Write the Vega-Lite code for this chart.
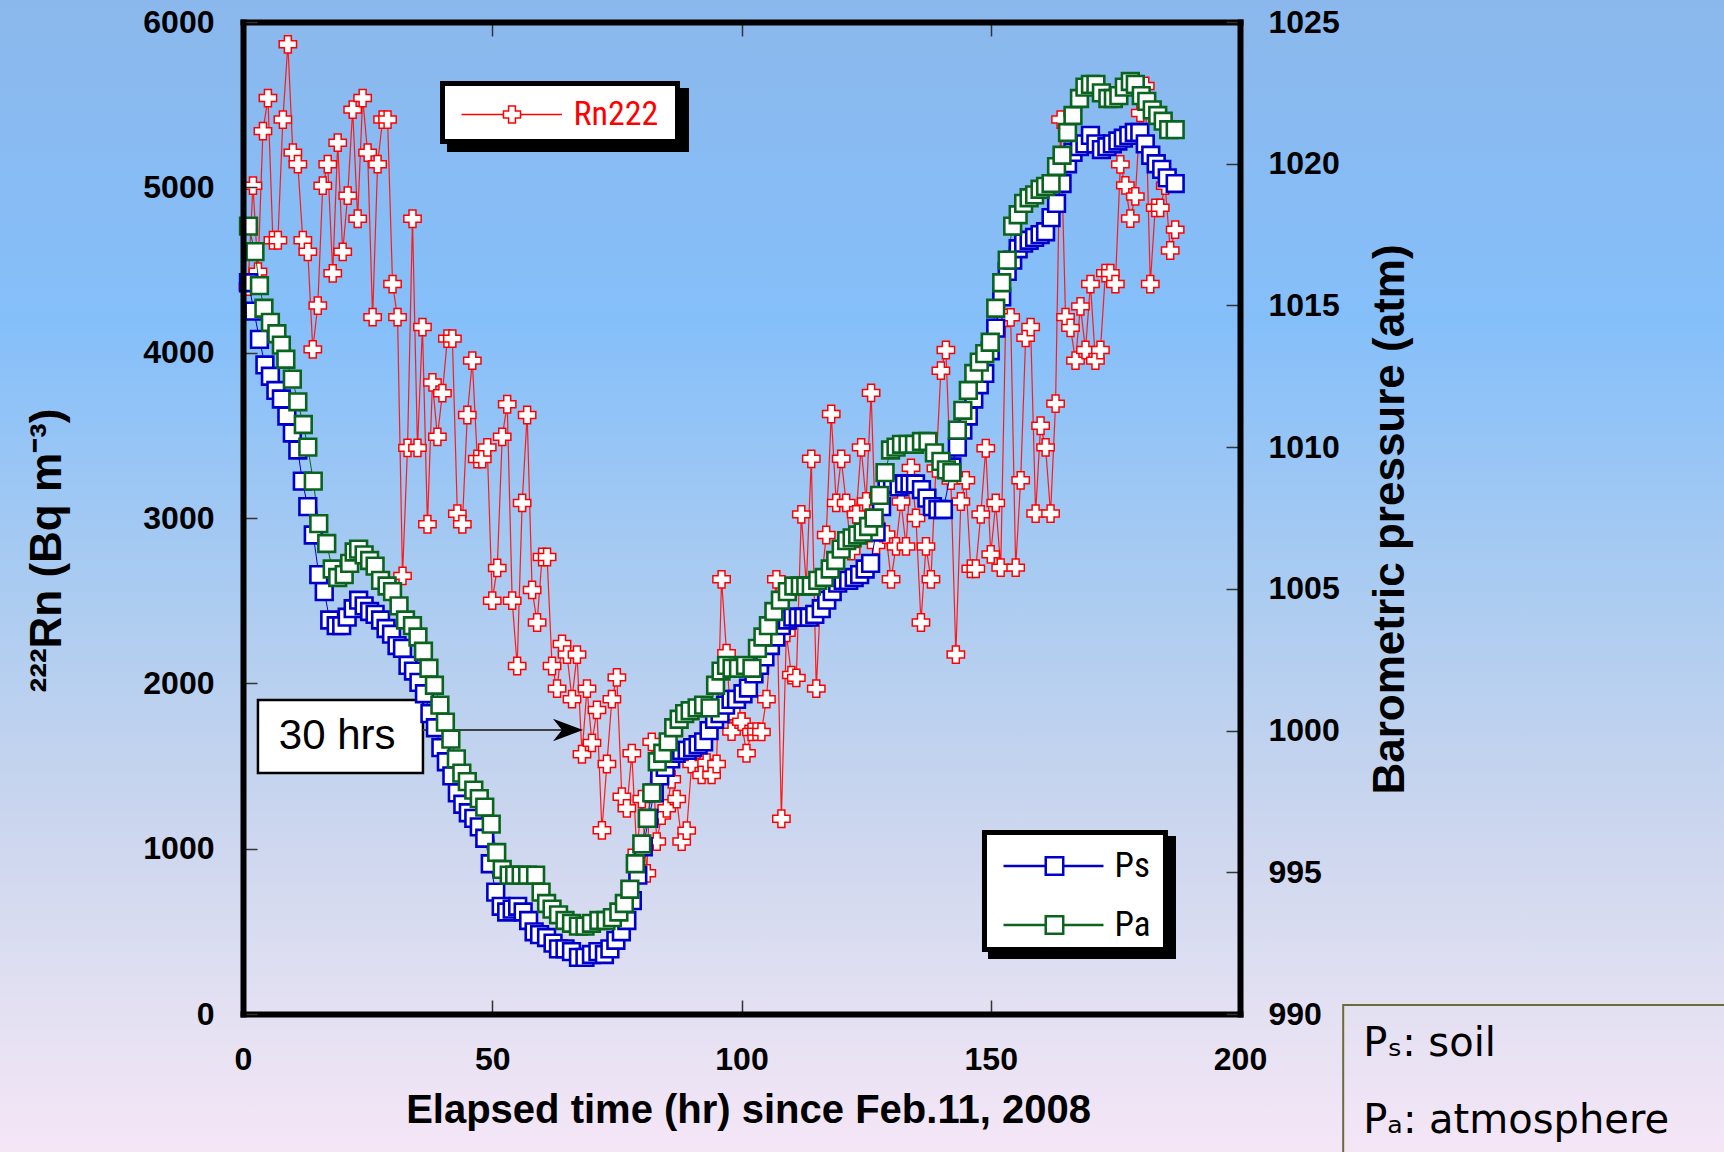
{
"$schema":"https://vega.github.io/schema/vega-lite/v6.json",
"width":997,"height":992,
"autosize":{"type":"none"},
"padding":{"left":243,"top":22,"right":484,"bottom":138},
"background":"#b4ccf0",
"config":{"view":{"stroke":null},"font":"Liberation Sans"},
"datasets":{
"one":[{}],
"rn":[{"t":1,"rn":4400},{"t":2,"rn":5010},{"t":3,"rn":4490},{"t":4,"rn":5340},{"t":5,"rn":5540},{"t":6,"rn":4680},{"t":7,"rn":4680},{"t":8,"rn":5410},{"t":9,"rn":5865},{"t":10,"rn":5210},{"t":11,"rn":5140},{"t":12,"rn":4680},{"t":13,"rn":4610},{"t":14,"rn":4020},{"t":15,"rn":4285},{"t":16,"rn":5010},{"t":17,"rn":5140},{"t":18,"rn":4480},{"t":19,"rn":5270},{"t":20,"rn":4610},{"t":21,"rn":4950},{"t":22,"rn":5470},{"t":23,"rn":4810},{"t":24,"rn":5540},{"t":25,"rn":5210},{"t":26,"rn":4215},{"t":27,"rn":5140},{"t":28,"rn":5410},{"t":29,"rn":5410},{"t":30,"rn":4415},{"t":31,"rn":4215},{"t":32,"rn":2650},{"t":33,"rn":3424},{"t":34,"rn":4810},{"t":35,"rn":3424},{"t":36,"rn":4155},{"t":37,"rn":2962},{"t":38,"rn":3820},{"t":39,"rn":3491},{"t":40,"rn":3755},{"t":41,"rn":4085},{"t":42,"rn":4085},{"t":43,"rn":3026},{"t":44,"rn":2962},{"t":45,"rn":3623},{"t":46,"rn":3952},{"t":47,"rn":3357},{"t":48,"rn":3357},{"t":49,"rn":3427},{"t":50,"rn":2500},{"t":51,"rn":2698},{"t":52,"rn":3491},{"t":53,"rn":3688},{"t":54,"rn":2500},{"t":55,"rn":2105},{"t":56,"rn":3091},{"t":57,"rn":3623},{"t":58,"rn":2565},{"t":59,"rn":2368},{"t":60,"rn":2764},{"t":61,"rn":2764},{"t":62,"rn":2105},{"t":63,"rn":1968},{"t":64,"rn":2238},{"t":65,"rn":2174},{"t":66,"rn":1904},{"t":67,"rn":2174},{"t":68,"rn":1571},{"t":69,"rn":1968},{"t":70,"rn":1640},{"t":71,"rn":1839},{"t":72,"rn":1111},{"t":73,"rn":1512},{"t":74,"rn":1904},{"t":75,"rn":2036},{"t":76,"rn":1314},{"t":77,"rn":1244},{"t":78,"rn":1577},{"t":79,"rn":975},{"t":80,"rn":1300},{"t":81,"rn":851},{"t":82,"rn":1646},{"t":83,"rn":1043},{"t":84,"rn":1200},{"t":85,"rn":1244},{"t":86,"rn":1420},{"t":87,"rn":1300},{"t":88,"rn":1043},{"t":89,"rn":1109},{"t":90,"rn":1512},{"t":91,"rn":1600},{"t":92,"rn":1446},{"t":93,"rn":1520},{"t":94,"rn":1446},{"t":95,"rn":1512},{"t":96,"rn":2629},{"t":97,"rn":2182},{"t":98,"rn":1708},{"t":99,"rn":1800},{"t":100,"rn":1768},{"t":101,"rn":1577},{"t":102,"rn":1706},{"t":103,"rn":1708},{"t":104,"rn":1706},{"t":105,"rn":1904},{"t":106,"rn":2300},{"t":107,"rn":2629},{"t":108,"rn":1181},{"t":109,"rn":2305},{"t":110,"rn":2050},{"t":111,"rn":2033},{"t":112,"rn":3022},{"t":113,"rn":2591},{"t":114,"rn":3358},{"t":115,"rn":1968},{"t":116,"rn":2600},{"t":117,"rn":2897},{"t":118,"rn":3629},{"t":119,"rn":3091},{"t":120,"rn":3358},{"t":121,"rn":3091},{"t":122,"rn":2800},{"t":123,"rn":3022},{"t":124,"rn":3427},{"t":125,"rn":3100},{"t":126,"rn":3757},{"t":127,"rn":2836},{"t":128,"rn":3100},{"t":129,"rn":2900},{"t":130,"rn":2629},{"t":131,"rn":2828},{"t":132,"rn":3100},{"t":133,"rn":2828},{"t":134,"rn":3303},{"t":135,"rn":3000},{"t":136,"rn":2368},{"t":137,"rn":2828},{"t":138,"rn":2629},{"t":139,"rn":3300},{"t":140,"rn":3891},{"t":141,"rn":4016},{"t":142,"rn":3226},{"t":143,"rn":2174},{"t":144,"rn":3100},{"t":145,"rn":3228},{"t":146,"rn":2693},{"t":147,"rn":2693},{"t":148,"rn":3022},{"t":149,"rn":3422},{"t":150,"rn":2780},{"t":151,"rn":3091},{"t":152,"rn":2700},{"t":153,"rn":4210},{"t":154,"rn":4214},{"t":155,"rn":2700},{"t":156,"rn":3228},{"t":157,"rn":4090},{"t":158,"rn":4155},{"t":159,"rn":3027},{"t":160,"rn":3558},{"t":161,"rn":3427},{"t":162,"rn":3027},{"t":163,"rn":3692},{"t":164,"rn":5410},{"t":165,"rn":4215},{"t":166,"rn":4150},{"t":167,"rn":3952},{"t":168,"rn":4280},{"t":169,"rn":4016},{"t":170,"rn":4415},{"t":171,"rn":3952},{"t":172,"rn":4016},{"t":173,"rn":4481},{"t":174,"rn":4481},{"t":175,"rn":4415},{"t":176,"rn":5139},{"t":177,"rn":5012},{"t":178,"rn":4811},{"t":179,"rn":4945},{"t":180,"rn":5450},{"t":181,"rn":5613},{"t":182,"rn":4415},{"t":183,"rn":4876},{"t":184,"rn":4876},{"t":185,"rn":5010},{"t":186,"rn":4618},{"t":187,"rn":4744}],
"pres":[
{"t":1.1,"s":"Ps","p":1015.8},{"t":2.2,"s":"Ps","p":1014.8},{"t":3.3,"s":"Ps","p":1013.8},{"t":4.4,"s":"Ps","p":1012.9},{"t":5.5,"s":"Ps","p":1012.5},{"t":6.6,"s":"Ps","p":1012.0},{"t":7.7,"s":"Ps","p":1011.7},{"t":8.8,"s":"Ps","p":1011.1},{"t":9.9,"s":"Ps","p":1010.5},{"t":11.0,"s":"Ps","p":1009.9},{"t":11.9,"s":"Ps","p":1008.8},{"t":13.0,"s":"Ps","p":1007.9},{"t":14.1,"s":"Ps","p":1006.9},{"t":15.2,"s":"Ps","p":1005.5},{"t":16.3,"s":"Ps","p":1004.9},{"t":17.4,"s":"Ps","p":1003.9},{"t":18.7,"s":"Ps","p":1003.7},{"t":19.8,"s":"Ps","p":1003.7},{"t":20.9,"s":"Ps","p":1004.0},{"t":22.1,"s":"Ps","p":1004.3},{"t":23.2,"s":"Ps","p":1004.6},{"t":24.3,"s":"Ps","p":1004.4},{"t":25.4,"s":"Ps","p":1004.2},{"t":26.5,"s":"Ps","p":1004.1},{"t":27.6,"s":"Ps","p":1003.9},{"t":28.7,"s":"Ps","p":1003.6},{"t":29.8,"s":"Ps","p":1003.4},{"t":30.9,"s":"Ps","p":1003.0},{"t":32.0,"s":"Ps","p":1002.9},{"t":33.1,"s":"Ps","p":1002.3},{"t":34.2,"s":"Ps","p":1002.1},{"t":35.3,"s":"Ps","p":1001.7},{"t":36.4,"s":"Ps","p":1001.3},{"t":37.5,"s":"Ps","p":1000.6},{"t":38.6,"s":"Ps","p":1000.1},{"t":39.7,"s":"Ps","p":999.4},{"t":40.8,"s":"Ps","p":998.9},{"t":41.9,"s":"Ps","p":998.4},{"t":43.0,"s":"Ps","p":997.8},{"t":44.1,"s":"Ps","p":997.4},{"t":45.2,"s":"Ps","p":997.1},{"t":46.3,"s":"Ps","p":996.9},{"t":47.4,"s":"Ps","p":996.6},{"t":48.5,"s":"Ps","p":996.2},{"t":49.6,"s":"Ps","p":995.3},{"t":50.7,"s":"Ps","p":994.3},{"t":51.8,"s":"Ps","p":993.8},{"t":52.9,"s":"Ps","p":993.6},{"t":54.0,"s":"Ps","p":993.7},{"t":55.1,"s":"Ps","p":993.8},{"t":56.2,"s":"Ps","p":993.6},{"t":57.3,"s":"Ps","p":993.3},{"t":58.4,"s":"Ps","p":992.9},{"t":59.5,"s":"Ps","p":992.8},{"t":60.9,"s":"Ps","p":992.7},{"t":62.2,"s":"Ps","p":992.5},{"t":63.3,"s":"Ps","p":992.3},{"t":64.6,"s":"Ps","p":992.3},{"t":65.9,"s":"Ps","p":992.2},{"t":67.3,"s":"Ps","p":992.0},{"t":68.6,"s":"Ps","p":992.0},{"t":69.9,"s":"Ps","p":992.1},{"t":71.2,"s":"Ps","p":992.2},{"t":72.5,"s":"Ps","p":992.1},{"t":73.6,"s":"Ps","p":992.3},{"t":74.8,"s":"Ps","p":992.6},{"t":75.9,"s":"Ps","p":992.9},{"t":77.0,"s":"Ps","p":993.3},{"t":78.1,"s":"Ps","p":994.0},{"t":79.2,"s":"Ps","p":994.9},{"t":80.3,"s":"Ps","p":995.9},{"t":81.4,"s":"Ps","p":996.9},{"t":82.5,"s":"Ps","p":997.8},{"t":83.6,"s":"Ps","p":998.4},{"t":84.7,"s":"Ps","p":998.7},{"t":85.8,"s":"Ps","p":999.0},{"t":86.9,"s":"Ps","p":999.2},{"t":88.0,"s":"Ps","p":999.3},{"t":89.1,"s":"Ps","p":999.3},{"t":90.2,"s":"Ps","p":999.4},{"t":91.3,"s":"Ps","p":999.5},{"t":92.4,"s":"Ps","p":999.6},{"t":93.5,"s":"Ps","p":1000.0},{"t":94.6,"s":"Ps","p":1000.4},{"t":95.7,"s":"Ps","p":1000.6},{"t":96.8,"s":"Ps","p":1000.9},{"t":97.9,"s":"Ps","p":1001.1},{"t":99.0,"s":"Ps","p":1001.1},{"t":100.3,"s":"Ps","p":1001.3},{"t":101.4,"s":"Ps","p":1001.5},{"t":102.5,"s":"Ps","p":1002.0},{"t":103.6,"s":"Ps","p":1002.3},{"t":104.7,"s":"Ps","p":1002.6},{"t":105.8,"s":"Ps","p":1003.0},{"t":106.9,"s":"Ps","p":1003.3},{"t":108.0,"s":"Ps","p":1003.7},{"t":109.2,"s":"Ps","p":1003.9},{"t":110.3,"s":"Ps","p":1004.0},{"t":111.4,"s":"Ps","p":1004.0},{"t":112.5,"s":"Ps","p":1004.0},{"t":113.6,"s":"Ps","p":1004.0},{"t":114.7,"s":"Ps","p":1004.1},{"t":116.0,"s":"Ps","p":1004.3},{"t":117.1,"s":"Ps","p":1004.6},{"t":118.2,"s":"Ps","p":1004.9},{"t":119.3,"s":"Ps","p":1005.2},{"t":120.4,"s":"Ps","p":1005.3},{"t":121.5,"s":"Ps","p":1005.3},{"t":122.6,"s":"Ps","p":1005.4},{"t":123.7,"s":"Ps","p":1005.5},{"t":124.8,"s":"Ps","p":1005.7},{"t":125.9,"s":"Ps","p":1005.9},{"t":127.0,"s":"Ps","p":1007.0},{"t":128.1,"s":"Ps","p":1007.9},{"t":129.2,"s":"Ps","p":1008.7},{"t":130.3,"s":"Ps","p":1008.7},{"t":131.6,"s":"Ps","p":1008.6},{"t":132.7,"s":"Ps","p":1008.7},{"t":133.8,"s":"Ps","p":1008.7},{"t":134.9,"s":"Ps","p":1008.7},{"t":136.1,"s":"Ps","p":1008.5},{"t":137.2,"s":"Ps","p":1008.2},{"t":138.3,"s":"Ps","p":1007.9},{"t":139.4,"s":"Ps","p":1007.8},{"t":140.5,"s":"Ps","p":1007.8},{"t":142.2,"s":"Ps","p":1009.3},{"t":143.3,"s":"Ps","p":1010.0},{"t":144.4,"s":"Ps","p":1010.6},{"t":145.5,"s":"Ps","p":1011.1},{"t":146.6,"s":"Ps","p":1011.7},{"t":147.7,"s":"Ps","p":1012.2},{"t":148.8,"s":"Ps","p":1012.6},{"t":149.9,"s":"Ps","p":1013.4},{"t":151.0,"s":"Ps","p":1014.2},{"t":152.2,"s":"Ps","p":1015.3},{"t":153.3,"s":"Ps","p":1016.2},{"t":154.4,"s":"Ps","p":1016.6},{"t":155.5,"s":"Ps","p":1017.0},{"t":156.6,"s":"Ps","p":1017.2},{"t":157.7,"s":"Ps","p":1017.3},{"t":158.8,"s":"Ps","p":1017.4},{"t":159.9,"s":"Ps","p":1017.5},{"t":161.0,"s":"Ps","p":1017.6},{"t":162.1,"s":"Ps","p":1018.1},{"t":163.2,"s":"Ps","p":1018.6},{"t":164.3,"s":"Ps","p":1019.3},{"t":165.4,"s":"Ps","p":1020.0},{"t":166.5,"s":"Ps","p":1020.4},{"t":167.8,"s":"Ps","p":1020.6},{"t":168.9,"s":"Ps","p":1020.7},{"t":170.0,"s":"Ps","p":1021.0},{"t":171.1,"s":"Ps","p":1020.7},{"t":172.2,"s":"Ps","p":1020.5},{"t":173.3,"s":"Ps","p":1020.6},{"t":174.4,"s":"Ps","p":1020.7},{"t":175.5,"s":"Ps","p":1020.8},{"t":176.6,"s":"Ps","p":1020.9},{"t":177.7,"s":"Ps","p":1021.0},{"t":178.8,"s":"Ps","p":1021.1},{"t":179.9,"s":"Ps","p":1021.1},{"t":181.0,"s":"Ps","p":1020.7},{"t":182.1,"s":"Ps","p":1020.3},{"t":183.2,"s":"Ps","p":1020.0},{"t":184.3,"s":"Ps","p":1019.8},{"t":185.4,"s":"Ps","p":1019.5},{"t":187.0,"s":"Ps","p":1019.3},
{"t":1.1,"s":"Pa","p":1017.8},{"t":2.4,"s":"Pa","p":1016.9},{"t":3.3,"s":"Pa","p":1015.7},{"t":4.2,"s":"Pa","p":1014.9},{"t":5.5,"s":"Pa","p":1014.4},{"t":6.8,"s":"Pa","p":1014.0},{"t":7.7,"s":"Pa","p":1013.6},{"t":8.6,"s":"Pa","p":1013.1},{"t":9.9,"s":"Pa","p":1012.4},{"t":11.0,"s":"Pa","p":1011.6},{"t":12.1,"s":"Pa","p":1010.8},{"t":13.0,"s":"Pa","p":1010.0},{"t":14.1,"s":"Pa","p":1008.8},{"t":15.2,"s":"Pa","p":1007.3},{"t":16.8,"s":"Pa","p":1006.6},{"t":17.9,"s":"Pa","p":1005.7},{"t":19.0,"s":"Pa","p":1005.4},{"t":20.3,"s":"Pa","p":1005.5},{"t":21.4,"s":"Pa","p":1005.9},{"t":22.3,"s":"Pa","p":1006.3},{"t":23.2,"s":"Pa","p":1006.4},{"t":24.3,"s":"Pa","p":1006.2},{"t":25.4,"s":"Pa","p":1006.0},{"t":26.5,"s":"Pa","p":1005.8},{"t":27.6,"s":"Pa","p":1005.3},{"t":28.9,"s":"Pa","p":1005.1},{"t":30.0,"s":"Pa","p":1004.9},{"t":31.3,"s":"Pa","p":1004.4},{"t":32.6,"s":"Pa","p":1003.9},{"t":34.0,"s":"Pa","p":1003.7},{"t":35.1,"s":"Pa","p":1003.3},{"t":36.2,"s":"Pa","p":1002.8},{"t":37.3,"s":"Pa","p":1002.2},{"t":38.4,"s":"Pa","p":1001.6},{"t":39.5,"s":"Pa","p":1000.9},{"t":40.6,"s":"Pa","p":1000.3},{"t":41.7,"s":"Pa","p":999.7},{"t":42.8,"s":"Pa","p":999.0},{"t":43.9,"s":"Pa","p":998.5},{"t":45.0,"s":"Pa","p":998.2},{"t":46.3,"s":"Pa","p":997.9},{"t":47.4,"s":"Pa","p":997.6},{"t":48.5,"s":"Pa","p":997.3},{"t":49.8,"s":"Pa","p":996.7},{"t":50.9,"s":"Pa","p":995.7},{"t":52.0,"s":"Pa","p":995.1},{"t":53.4,"s":"Pa","p":994.9},{"t":54.5,"s":"Pa","p":994.9},{"t":55.8,"s":"Pa","p":994.9},{"t":57.1,"s":"Pa","p":994.9},{"t":58.7,"s":"Pa","p":994.9},{"t":59.8,"s":"Pa","p":994.3},{"t":60.9,"s":"Pa","p":993.9},{"t":62.0,"s":"Pa","p":993.7},{"t":63.3,"s":"Pa","p":993.5},{"t":64.6,"s":"Pa","p":993.3},{"t":65.9,"s":"Pa","p":993.2},{"t":67.3,"s":"Pa","p":993.1},{"t":68.6,"s":"Pa","p":993.1},{"t":69.9,"s":"Pa","p":993.2},{"t":71.4,"s":"Pa","p":993.3},{"t":72.8,"s":"Pa","p":993.3},{"t":74.1,"s":"Pa","p":993.4},{"t":75.4,"s":"Pa","p":993.6},{"t":76.5,"s":"Pa","p":993.9},{"t":77.6,"s":"Pa","p":994.4},{"t":78.7,"s":"Pa","p":995.3},{"t":80.0,"s":"Pa","p":996.0},{"t":81.1,"s":"Pa","p":996.9},{"t":82.0,"s":"Pa","p":997.8},{"t":83.1,"s":"Pa","p":998.9},{"t":84.2,"s":"Pa","p":999.2},{"t":85.3,"s":"Pa","p":999.6},{"t":86.4,"s":"Pa","p":1000.1},{"t":87.5,"s":"Pa","p":1000.4},{"t":88.6,"s":"Pa","p":1000.6},{"t":89.7,"s":"Pa","p":1000.7},{"t":91.1,"s":"Pa","p":1000.8},{"t":92.4,"s":"Pa","p":1000.9},{"t":93.7,"s":"Pa","p":1000.8},{"t":94.8,"s":"Pa","p":1001.6},{"t":95.9,"s":"Pa","p":1002.1},{"t":97.0,"s":"Pa","p":1002.3},{"t":98.1,"s":"Pa","p":1002.2},{"t":99.4,"s":"Pa","p":1002.2},{"t":100.8,"s":"Pa","p":1002.3},{"t":102.1,"s":"Pa","p":1002.2},{"t":103.2,"s":"Pa","p":1002.9},{"t":104.3,"s":"Pa","p":1003.3},{"t":105.4,"s":"Pa","p":1003.7},{"t":106.5,"s":"Pa","p":1004.2},{"t":107.8,"s":"Pa","p":1004.6},{"t":109.2,"s":"Pa","p":1004.9},{"t":110.5,"s":"Pa","p":1005.1},{"t":111.8,"s":"Pa","p":1005.1},{"t":112.9,"s":"Pa","p":1005.1},{"t":114.0,"s":"Pa","p":1005.1},{"t":115.3,"s":"Pa","p":1005.3},{"t":116.6,"s":"Pa","p":1005.4},{"t":117.8,"s":"Pa","p":1005.7},{"t":118.9,"s":"Pa","p":1006.0},{"t":120.0,"s":"Pa","p":1006.4},{"t":121.1,"s":"Pa","p":1006.7},{"t":122.2,"s":"Pa","p":1006.8},{"t":123.3,"s":"Pa","p":1006.9},{"t":124.4,"s":"Pa","p":1007.0},{"t":125.5,"s":"Pa","p":1007.2},{"t":126.6,"s":"Pa","p":1007.5},{"t":127.7,"s":"Pa","p":1008.3},{"t":128.8,"s":"Pa","p":1009.1},{"t":129.9,"s":"Pa","p":1009.9},{"t":131.0,"s":"Pa","p":1010.0},{"t":132.1,"s":"Pa","p":1010.1},{"t":133.4,"s":"Pa","p":1010.1},{"t":134.7,"s":"Pa","p":1010.1},{"t":136.1,"s":"Pa","p":1010.2},{"t":137.4,"s":"Pa","p":1010.2},{"t":138.7,"s":"Pa","p":1009.8},{"t":140.0,"s":"Pa","p":1009.5},{"t":141.1,"s":"Pa","p":1009.2},{"t":142.2,"s":"Pa","p":1009.1},{"t":143.3,"s":"Pa","p":1010.6},{"t":144.4,"s":"Pa","p":1011.3},{"t":145.5,"s":"Pa","p":1012.0},{"t":146.6,"s":"Pa","p":1012.6},{"t":147.7,"s":"Pa","p":1013.0},{"t":148.8,"s":"Pa","p":1013.3},{"t":149.9,"s":"Pa","p":1013.7},{"t":151.0,"s":"Pa","p":1014.9},{"t":152.2,"s":"Pa","p":1015.8},{"t":153.3,"s":"Pa","p":1016.6},{"t":154.4,"s":"Pa","p":1017.8},{"t":155.5,"s":"Pa","p":1018.2},{"t":156.6,"s":"Pa","p":1018.6},{"t":157.7,"s":"Pa","p":1018.8},{"t":158.8,"s":"Pa","p":1018.9},{"t":159.9,"s":"Pa","p":1019.1},{"t":161.0,"s":"Pa","p":1019.2},{"t":162.1,"s":"Pa","p":1019.3},{"t":163.2,"s":"Pa","p":1019.9},{"t":164.3,"s":"Pa","p":1020.3},{"t":165.4,"s":"Pa","p":1021.1},{"t":166.5,"s":"Pa","p":1021.7},{"t":167.8,"s":"Pa","p":1022.3},{"t":168.9,"s":"Pa","p":1022.7},{"t":170.0,"s":"Pa","p":1022.8},{"t":171.1,"s":"Pa","p":1022.8},{"t":172.2,"s":"Pa","p":1022.5},{"t":173.5,"s":"Pa","p":1022.3},{"t":174.6,"s":"Pa","p":1022.3},{"t":175.7,"s":"Pa","p":1022.4},{"t":176.8,"s":"Pa","p":1022.7},{"t":178.0,"s":"Pa","p":1022.9},{"t":179.0,"s":"Pa","p":1022.8},{"t":180.2,"s":"Pa","p":1022.4},{"t":181.3,"s":"Pa","p":1022.2},{"t":182.4,"s":"Pa","p":1021.9},{"t":183.5,"s":"Pa","p":1021.7},{"t":184.6,"s":"Pa","p":1021.5},{"t":185.7,"s":"Pa","p":1021.2},{"t":187.0,"s":"Pa","p":1021.2}]
},
"layer":[
{"layer":[
 {"data":{"name":"one"},"mark":{"type":"rect","fill":{"gradient":"linear","x1":0,"y1":0,"x2":0,"y2":1,"stops":[{"offset":0,"color":"#8bb8ec"},{"offset":0.28,"color":"#85bffa"},{"offset":0.5,"color":"#a9cbf1"},{"offset":0.7,"color":"#c9d5ee"},{"offset":0.87,"color":"#e2e0f2"},{"offset":1,"color":"#f5e6f6"}]},"clip":false},
  "encoding":{"x":{"datum":-48.75,"type":"quantitative","scale":{"domain":[0,200],"nice":false,"zero":false}},"x2":{"datum":297.1},"y":{"datum":6133.1,"type":"quantitative","scale":{"domain":[0,6000],"nice":false,"zero":false}},"y2":{"datum":-834.7}}},
 {"data":{"name":"rn"},"mark":{"type":"line","color":"#ff1a1a","strokeWidth":1.2},
  "encoding":{"x":{"field":"t","type":"quantitative","scale":{"domain":[0,200],"nice":false,"zero":false},"axis":{"orient":"bottom","values":[0,50,100,150,200],"tickSize":-14,"tickColor":"#333333","tickWidth":1.5,"domainColor":"#000000","domainWidth":6,"domainCap":"square","labelFont":"Liberation Sans","labelFontWeight":"bold","labelFontSize":32,"labelColor":"#000000","labelPadding":44,"labelFlush":false,"grid":false,"title":"Elapsed time (hr) since Feb.11, 2008","titleFont":"Liberation Sans","titleFontWeight":"bold","titleFontSize":40,"titleColor":"#000000","titleX":505,"titleY":96,"titleBaseline":"middle","titleAlign":"center","zindex":2}},
   "y":{"field":"rn","type":"quantitative","scale":{"domain":[0,6000],"nice":false,"zero":false},"axis":{"orient":"left","values":[0,1000,2000,3000,4000,5000,6000],"format":"d","tickSize":-14,"tickColor":"#333333","tickWidth":1.5,"domainColor":"#000000","domainWidth":6,"domainCap":"square","labelFont":"Liberation Sans","labelFontWeight":"bold","labelFontSize":32,"labelColor":"#000000","labelPadding":43,"labelFlush":false,"grid":false,"title":"²²²Rn (Bq m⁻³)","titleFont":"Liberation Sans","titleFontWeight":"bold","titleFontSize":44,"titleColor":"#000000","titleAngle":270,"titleX":-196,"titleY":528,"titleBaseline":"middle","titleAlign":"center","zindex":2}}}},
 {"data":{"name":"rn"},"mark":{"type":"point","shape":"cross","size":300,"filled":true,"fill":"#ffffff","strokeWidth":1.5,"opacity":1},
  "encoding":{"x":{"field":"t","type":"quantitative","scale":{"domain":[0,200],"nice":false,"zero":false}},"y":{"field":"rn","type":"quantitative","scale":{"domain":[0,6000],"nice":false,"zero":false}},
   "stroke":{"datum":"Rn222","type":"nominal","scale":{"domain":["Rn222"],"range":["#ff0000"]},"legend":{"orient":"none","legendX":199.5,"legendY":63.5,"title":null,"symbolType":"M-0.909,0H2.909M4.455,0H8.225M2.909,-0.309H3.373V-0.773H3.991V-0.309H4.455V0.309H3.991V0.773H3.373V0.309H2.909Z","symbolSize":484,"symbolStrokeWidth":1.5,"symbolFillColor":"#ffffff","labelFont":"Liberation Sans Narrow, Roboto Condensed, Liberation Sans, sans-serif","labelFontSize":34,"labelColor":"#ff0000","labelOffset":85,"padding":12,
    "encode":{"symbols":{"update":{"fill":{"value":"#ffffff"},"stroke":{"value":"#ff0000"},"strokeWidth":{"value":1.5}}},"labels":{"update":{"fill":{"value":"#ff0000"}}}}}}}},
 {"data":{"name":"one"},"mark":{"type":"rect","fill":"#000000","clip":false},
  "encoding":{"x":{"datum":40.92,"type":"quantitative","scale":{"domain":[0,200],"nice":false,"zero":false}},"x2":{"datum":89.47},"y":{"datum":5600.8,"type":"quantitative","scale":{"domain":[0,6000],"nice":false,"zero":false}},"y2":{"datum":5213.7}}},
 {"data":{"name":"one"},"mark":{"type":"rect","fill":"#000000","clip":false},
  "encoding":{"x":{"datum":39.52,"type":"quantitative","scale":{"domain":[0,200],"nice":false,"zero":false}},"x2":{"datum":87.66},"y":{"datum":5643.2,"type":"quantitative","scale":{"domain":[0,6000],"nice":false,"zero":false}},"y2":{"datum":5262.1}}},
 {"data":{"name":"one"},"mark":{"type":"rect","fill":"#ffffff","clip":false},
  "encoding":{"x":{"datum":40.52,"type":"quantitative","scale":{"domain":[0,200],"nice":false,"zero":false}},"x2":{"datum":86.66},"y":{"datum":5612.9,"type":"quantitative","scale":{"domain":[0,6000],"nice":false,"zero":false}},"y2":{"datum":5292.4}}},
 {"data":{"name":"one"},"mark":{"type":"rect","fill":"#000000","clip":false},
  "encoding":{"x":{"datum":149.45,"type":"quantitative","scale":{"domain":[0,200],"nice":false,"zero":false}},"x2":{"datum":187.16},"y":{"datum":1076.6,"type":"quantitative","scale":{"domain":[0,6000],"nice":false,"zero":false}},"y2":{"datum":332.7}}},
 {"data":{"name":"one"},"mark":{"type":"rect","fill":"#000000","clip":false},
  "encoding":{"x":{"datum":148.24,"type":"quantitative","scale":{"domain":[0,200],"nice":false,"zero":false}},"x2":{"datum":185.55},"y":{"datum":1112.9,"type":"quantitative","scale":{"domain":[0,6000],"nice":false,"zero":false}},"y2":{"datum":375.0}}},
 {"data":{"name":"one"},"mark":{"type":"rect","fill":"#ffffff","clip":false},
  "encoding":{"x":{"datum":149.25,"type":"quantitative","scale":{"domain":[0,200],"nice":false,"zero":false}},"x2":{"datum":184.55},"y":{"datum":1082.7,"type":"quantitative","scale":{"domain":[0,6000],"nice":false,"zero":false}},"y2":{"datum":405.2}}},
 {"data":{"name":"one"},"mark":{"type":"rect","fill":"#ffffff","stroke":"#000000","strokeWidth":2.5,"clip":false},
  "encoding":{"x":{"datum":3.0,"type":"quantitative","scale":{"domain":[0,200],"nice":false,"zero":false}},"x2":{"datum":36.1},"y":{"datum":1899,"type":"quantitative","scale":{"domain":[0,6000],"nice":false,"zero":false}},"y2":{"datum":1458}}},
 {"data":{"name":"one"},"mark":{"type":"text","text":"30 hrs","font":"Liberation Sans","fontSize":42,"color":"#000000","align":"center","baseline":"middle","clip":false},
  "encoding":{"x":{"datum":18.9,"type":"quantitative","scale":{"domain":[0,200],"nice":false,"zero":false}},"y":{"datum":1681,"type":"quantitative","scale":{"domain":[0,6000],"nice":false,"zero":false}}}},
 {"data":{"name":"one"},"mark":{"type":"rule","color":"#404040","strokeWidth":2,"clip":false},
  "encoding":{"x":{"datum":36.1,"type":"quantitative","scale":{"domain":[0,200],"nice":false,"zero":false}},"x2":{"datum":66.5},"y":{"datum":1718,"type":"quantitative","scale":{"domain":[0,6000],"nice":false,"zero":false}}}},
 {"data":{"name":"one"},"mark":{"type":"point","shape":"M0,0L-2,-0.75L-1.4,0L-2,0.75Z","size":900,"filled":true,"fill":"#000000","strokeWidth":0,"opacity":1,"clip":false},
  "encoding":{"x":{"datum":68.2,"type":"quantitative","scale":{"domain":[0,200],"nice":false,"zero":false}},"y":{"datum":1718,"type":"quantitative","scale":{"domain":[0,6000],"nice":false,"zero":false}}}},
 {"data":{"name":"one"},"mark":{"type":"rect","fillOpacity":0,"stroke":"#6b6b3b","strokeWidth":2,"clip":false},
  "encoding":{"x":{"datum":220.7,"type":"quantitative","scale":{"domain":[0,200],"nice":false,"zero":false}},"x2":{"datum":300},"y":{"datum":54.4,"type":"quantitative","scale":{"domain":[0,6000],"nice":false,"zero":false}},"y2":{"datum":-1000}}},
 {"data":{"name":"one"},"mark":{"type":"text","text":"Pₛ: soil","font":"DejaVu Sans","fontSize":40,"color":"#000000","align":"left","baseline":"alphabetic","clip":false},
  "encoding":{"x":{"datum":224.7,"type":"quantitative","scale":{"domain":[0,200],"nice":false,"zero":false}},"y":{"datum":-254,"type":"quantitative","scale":{"domain":[0,6000],"nice":false,"zero":false}}}},
 {"data":{"name":"one"},"mark":{"type":"text","text":"Pₐ: atmosphere","font":"DejaVu Sans","fontSize":40,"color":"#000000","align":"left","baseline":"alphabetic","clip":false},
  "encoding":{"x":{"datum":224.7,"type":"quantitative","scale":{"domain":[0,200],"nice":false,"zero":false}},"y":{"datum":-720,"type":"quantitative","scale":{"domain":[0,6000],"nice":false,"zero":false}}}}
]},
{"data":{"name":"pres"},"layer":[
 {"mark":{"type":"line","strokeWidth":1},
  "encoding":{"x":{"field":"t","type":"quantitative","scale":{"domain":[0,200],"nice":false,"zero":false},"axis":{"orient":"top","values":[0,50,100,150,200],"labels":false,"tickSize":-14,"tickColor":"#333333","tickWidth":1.5,"domainColor":"#000000","domainWidth":6,"domainCap":"square","grid":false,"title":null,"zindex":2}},
   "y":{"field":"p","type":"quantitative","scale":{"domain":[990,1025],"nice":false,"zero":false},"axis":{"orient":"right","values":[990,995,1000,1005,1010,1015,1020,1025],"format":"d","tickSize":-14,"tickColor":"#333333","tickWidth":1.5,"domainColor":"#000000","domainWidth":6,"domainCap":"square","labelFont":"Liberation Sans","labelFontWeight":"bold","labelFontSize":32,"labelColor":"#000000","labelPadding":42,"labelFlush":false,"grid":false,"title":"Barometric pressure (atm)","titleFont":"Liberation Sans","titleFontWeight":"bold","titleFontSize":44,"titleColor":"#000000","titleAngle":270,"titleX":150,"titleY":497,"titleBaseline":"middle","titleAlign":"center","zindex":2}},
   "stroke":{"field":"s","type":"nominal","scale":{"domain":["Ps","Pa"],"range":["#0000cc","#0a6420"]}},
   "detail":{"field":"s"}}},
 {"mark":{"type":"point","shape":"square","size":280,"filled":true,"fill":"#ffffff","strokeWidth":2.6,"opacity":1},
  "encoding":{"x":{"field":"t","type":"quantitative","scale":{"domain":[0,200],"nice":false,"zero":false}},
   "y":{"field":"p","type":"quantitative","scale":{"domain":[990,1025],"nice":false,"zero":false}},
   "stroke":{"field":"s","type":"nominal","scale":{"domain":["Ps","Pa"],"range":["#0000cc","#0a6420"]},"legend":{"orient":"none","legendX":741.5,"legendY":813.5,"title":null,"symbolType":"M-0.958,0H2.561M4.019,0H7.375M2.561,-0.729H4.019V0.729H2.561Z","symbolSize":576,"symbolStrokeWidth":2.5,"symbolFillColor":"#ffffff","labelFont":"Liberation Sans Narrow, Roboto Condensed, Liberation Sans, sans-serif","labelFontSize":35,"labelOffset":82,"rowPadding":23,"padding":13,
    "encode":{"symbols":{"update":{"fill":{"value":"#ffffff"},"strokeWidth":{"value":2.5}}},"labels":{"update":{"fill":{"signal":"datum.value === 'Ps' ? '#0000cc' : '#0a6420'"}}}}}}}}
]}
],
"resolve":{"scale":{"x":"independent","y":"independent","stroke":"independent"}}
}
